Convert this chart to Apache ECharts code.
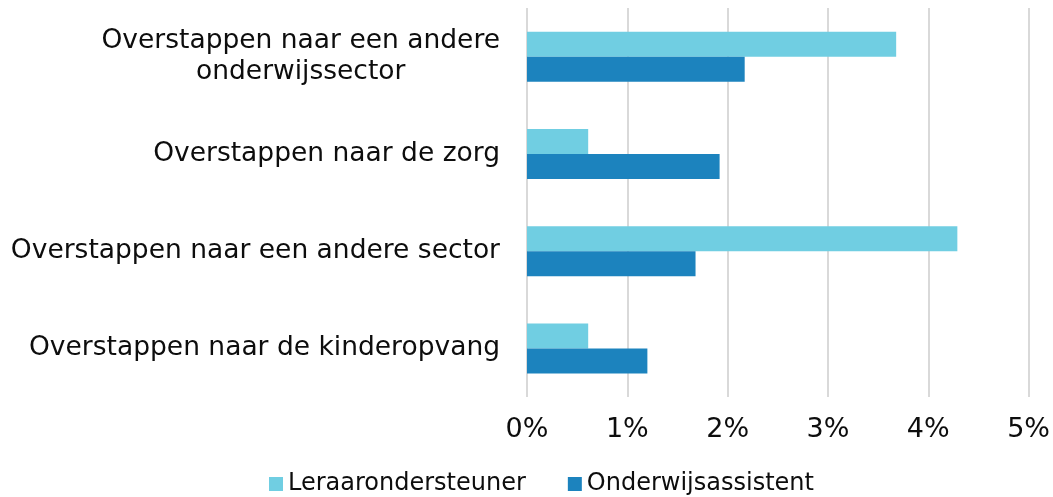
<!DOCTYPE html>
<html>
<head>
    <meta charset="utf-8">
    <title>Overstappen</title>
    <script src="https://cdn.jsdelivr.net/npm/echarts@6/dist/echarts.min.js"></script>
    <style>
        html, body { margin: 0; padding: 0; background: #fff; }
        #main { width: 1053px; height: 497px; }
    </style>
</head>
<body>
<div id="main"></div>
<script type="text/javascript">
// categories, bottom to top (category axis on y starts at bottom)
var categories = [
    'Overstappen naar de kinderopvang',
    'Overstappen naar een andere sector',
    'Overstappen naar de zorg',
    'Overstappen naar een andere onderwijssector'
];
var seriesNames = ['Leraarondersteuner', 'Onderwijsassistent'];
var leraarondersteuner = [0.61, 4.29, 0.61, 3.68];
var onderwijsassistent = [1.20, 1.68, 1.92, 2.17];
var xTicks = [0, 1, 2, 3, 4, 5];

var textColor = '#0d0d0d';
var fontFam = '"DejaVu Sans", Verdana, sans-serif';

var myChart = echarts.init(document.getElementById('main'));

myChart.setOption({
    animation: false,
    textStyle: { fontFamily: fontFam },
    grid: { left: 527, right: 24, top: 8, bottom: 100 },
    legend: {
        data: seriesNames,
        top: 472,
        left: 269,
        padding: 0,
        icon: 'rect',
        itemWidth: 14,
        itemHeight: 14,
        itemGap: 42,
        textStyle: { fontSize: 24, color: textColor, fontFamily: fontFam }
    },
    xAxis: {
        type: 'value',
        min: xTicks[0],
        max: xTicks[xTicks.length - 1],
        interval: 1,
        axisLine: { show: false },
        axisTick: { show: false },
        splitLine: { lineStyle: { color: '#d9d9d9', width: 2 } },
        axisLabel: {
            fontSize: 27,
            color: textColor,
            margin: 19,
            formatter: function (v) { return v + '%'; }
        }
    },
    yAxis: {
        type: 'category',
        data: categories,
        axisLine: { show: false },
        axisTick: { show: false },
        axisLabel: {
            fontSize: 26.5,
            color: textColor,
            margin: 27,
            lineHeight: 31,
            formatter: function (v) {
                if (v === 'Overstappen naar een andere onderwijssector') {
                    return '{a|Overstappen naar een andere}\n{b|onderwijssector}';
                }
                return v;
            },
            rich: {
                a: { fontSize: 26.5, color: textColor, lineHeight: 31, align: 'center' },
                b: { fontSize: 26.5, color: textColor, lineHeight: 31, align: 'center' }
            }
        }
    },
    series: [
        {
            name: seriesNames[0],
            type: 'bar',
            data: leraarondersteuner,
            barWidth: 25,
            barGap: '0%',
            itemStyle: { color: '#70cee2' }
        },
        {
            name: seriesNames[1],
            type: 'bar',
            data: onderwijsassistent,
            barWidth: 25,
            barGap: '0%',
            itemStyle: { color: '#1c83be' }
        }
    ]
});
</script>
</body>
</html>
